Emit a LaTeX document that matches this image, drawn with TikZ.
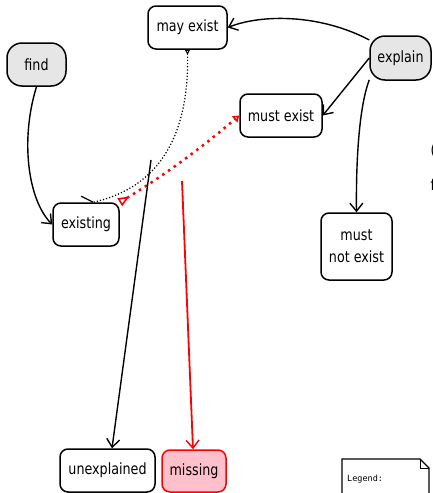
\documentclass[tikz,border=0pt]{standalone}
\usepackage{fontspec}
\setmainfont{DejaVu Sans}[FakeStretch=0.82]
\newfontfamily\legendfont{DejaVu Sans Mono}
\usetikzlibrary{arrows.meta}
\definecolor{stategray}{RGB}{230,230,230}
\definecolor{misspink}{RGB}{255,192,203}
\begin{document}
\begin{tikzpicture}[x=1pt,y=-1pt,
  state/.style={draw, line width=1.5pt, rounded corners=8pt, minimum height=43pt,
    inner sep=0pt, font=\fontsize{15.5}{22}\selectfont, align=center},
  gstate/.style={state, fill=stategray, rounded corners=15pt},
  edge/.style={line width=1.4pt, -{Straight Barb[length=8pt,width=13pt,line width=1.4pt]}},
  frag/.style={inner sep=0pt, font=\fontsize{15.5}{18}\selectfont}]
\useasboundingbox (0,0) rectangle (432,493);
% nodes
\node[gstate, minimum width=59pt] (find) at (36.5,64.5) {find};
\node[state, minimum width=79pt] (may) at (187.5,27.5) {may exist};
\node[gstate, minimum width=61pt, minimum height=44pt] (explain) at (400.5,58) {explain};
\node[state, minimum width=82pt] (must) at (281,115.5) {must exist};
\node[state, minimum width=66pt] (existing) at (86,224.5) {existing};
\node[state, minimum width=71pt, minimum height=67pt] (mne) at (356.5,246.5) {must\\not exist};
\node[state, minimum width=95pt] (unexp) at (107.5,470.5) {unexplained};
\node[state, minimum width=64pt, minimum height=42pt, draw=red, fill=misspink] (missing) at (194,471) {missing};
% legend note
\draw[line width=1.3pt, fill=white] (342,520) -- (342,459) -- (420,459) -- (429,468) -- (429,520);
\draw[line width=1pt] (420,459) -- (420,468) -- (429,468);
\node[anchor=west, inner sep=0pt, font=\legendfont\fontsize{8.5}{10}\selectfont] (legend) at (347,479.5) {Legend:};
% clipped fragments at right edge
\node[frag, anchor=base west] (fragA) at (430.3,155) {(};
\node[frag, anchor=base west] (fragB) at (430.3,190) {f};
% edges
\draw[edge] (explain.150) .. controls (320,14) and (262,14) .. (may.east);
\draw[edge] (explain.west) -- (must.east);
\draw[edge] (explain.215) .. controls (358,110) and (356,170) .. (mne.north);
\draw[edge] (find.south) .. controls (20,140) and (28,200) .. (existing.west);
\draw[line width=1.2pt, dotted, {Triangle[open,reversed,length=5pt,width=5pt,line width=1pt]}-]
  (may.south) .. controls (189,120) and (170,185) .. (existing.72);
\draw[line width=1.2pt] (existing.72) -- ++(-12,-6);
\draw[red, line width=2.5pt, dash pattern=on 2.5pt off 4.5pt,
  {Triangle[open,reversed,length=11pt,width=9pt,line width=1.6pt]}-{Triangle[open,length=6pt,width=8pt,line width=1.6pt]}]
  (existing.north east) .. controls (165,175) and (205,145) .. (must.west);
\coordinate (s1) at (151,160);
\coordinate (s2) at (182,181);
\draw[edge] (s1) -- ([xshift=4.5pt]unexp.north);
\draw[edge, red, line width=1.8pt] (s2) -- ([xshift=-1pt]missing.north);
\end{tikzpicture}
\end{document}
